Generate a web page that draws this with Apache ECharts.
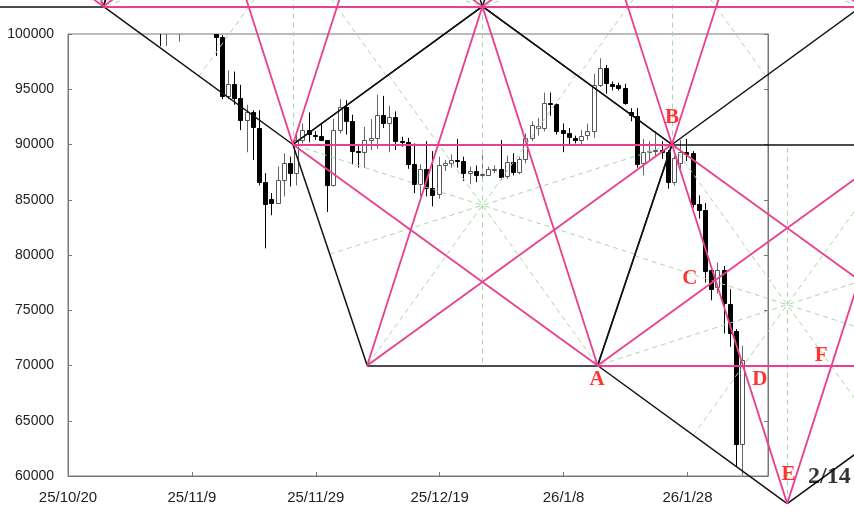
<!DOCTYPE html>
<html>
<head>
<meta charset="utf-8">
<script src="https://cdn.jsdelivr.net/npm/echarts@6/dist/echarts.min.js"></script>
<style>
  html, body { margin: 0; padding: 0; background: #fff; }
  #chart { width: 854px; height: 514px; }
</style>
</head>
<body>
<div id="chart"></div>
<script>
// x values are days since 2025-10-20
const ORIGIN = Date.UTC(2025, 9, 20);
const firstDay = 15;
const opens = [106500,101500,103900,101300,103300,102300,104700,105900,103000,101600,
  99700,94400,95500,94200,92200,92900,91500,86600,85100,84700,
  86800,88300,87400,90400,91300,90900,90800,90400,86300,91300,
  93400,92100,89400,89300,90400,90600,92700,92000,92500,90300,
  90200,88200,86400,87800,86100,85500,88100,88300,88600,88500,
  87400,87600,87200,87300,87800,87800,87100,88400,87500,88700,
  90600,91500,91500,93800,93700,91300,91000,90600,90400,90800,
  91200,95400,96900,95500,95400,95100,92900,92600,88300,89300,
  89400,89500,89300,86600,88300,89300,89200,84600,84100,78600,
  77100,78600,75600,73100,62900];
const closes = [101500,103900,101300,103300,102300,104700,105900,103000,101600,99700,
  94400,95500,94200,92200,92900,91500,86600,84600,84700,86800,
  88300,87400,90400,91300,90900,90800,90400,86300,91300,93400,
  92100,89400,89300,90400,90600,92700,92000,92500,90300,90200,
  88200,86400,87800,86100,85500,88100,88300,88600,88500,87400,
  87600,87200,87300,87800,87800,87100,88400,87500,88700,90600,
  91800,91700,93800,93700,91300,91000,90600,90400,90800,91200,
  95400,96900,95500,95300,95100,93700,92600,88300,89300,89400,
  89500,89300,86600,88800,89300,89100,84600,84100,78600,76900,
  78600,75600,73000,62900,70500];
const lows = [98900,98900,100300,99300,101400,101500,104300,102500,100800,98000,
  94100,94100,93600,91300,89300,88600,86300,80600,83600,84700,
  85300,86200,86300,90100,90200,90400,90300,83900,86200,91000,
  90900,88200,87900,87900,89500,89600,91500,89300,89500,89800,
  87800,85600,85300,85300,84400,85100,87600,87900,87900,86700,
  86400,86600,86800,87300,87400,86800,86900,87200,87300,88300,
  90300,90800,91200,92600,90900,89300,89900,90100,89900,90400,
  90600,95200,94600,94900,94900,93600,92100,87900,87200,88600,
  88900,88700,86000,86300,87800,88500,84300,83300,77500,75900,
  76500,72900,71700,60800,60100];
const highs = [107300,104500,104000,104100,103400,105000,106600,107000,105300,104000,
  99900,96700,96600,95400,93600,93100,93100,87400,85600,88000,
  89200,88900,91000,91900,92900,91200,91900,90400,92300,94100,
  94000,92700,89900,91600,92300,94500,94400,93500,93000,90700,
  90600,90100,88200,90300,89400,88900,88600,89100,90500,88900,
  88000,88100,89500,88000,88100,90400,89000,89200,88900,91000,
  92100,92400,94700,94700,93700,91900,91500,90800,91300,91900,
  96400,97800,97200,95700,95600,95500,93300,93300,90500,90300,
  91200,90300,89500,89000,90400,90500,89400,85400,84700,79000,
  79300,79000,76900,73300,71800];

const xTicks = [0, 20, 40, 60, 80, 100];
const yTicks = [60000, 65000, 70000, 75000, 80000, 85000, 90000, 95000, 100000];

// drawing template: [center day, apex, wide, narrow, star] prices; half widths in days
const W = 30.6;
const w = 18.6;
const shapes = [
  [-12.9, 135000, 122500, 102500, 117000],
  [36.3, 90000, 102500, 122500, 108000],
  [66.9, 102500, 90000, 70000, 84500],
  [97.5, 90000, 102500, 122500, 108000],
  [116.1, 57500, 70000, 90000, 75500]
];

// label anchors [day, price, text]
const marks = [
  [85.4, 68700, 'A'], [97.5, 92400, 'B'], [100.4, 77900, 'C'],
  [111.7, 68700, 'D'], [116.3, 60100, 'E'], [121.6, 70900, 'F']
];
const dateNote = [122.9, 59900, '2/14'];

function dayLabel(d) {
  const t = new Date(ORIGIN + d * 86400000);
  return (t.getUTCFullYear() % 100) + '/' + (t.getUTCMonth() + 1) + '/' + t.getUTCDate();
}

const candles = opens.map((o, i) => [firstDay + i, o, closes[i], lows[i], highs[i]]);

// clip the line through s (towards p) to a convex polygon
function chord(poly, s, p) {
  const d = [p[0] - s[0], (p[1] - s[1]) / 1000];
  let t0 = -1e9, t1 = 1e9;
  const cx = poly.reduce((a, q) => a + q[0], 0) / poly.length;
  const cy = poly.reduce((a, q) => a + q[1] / 1000, 0) / poly.length;
  for (let i = 0; i < poly.length; i++) {
    const a = [poly[i][0], poly[i][1] / 1000];
    const b = [poly[(i + 1) % poly.length][0], poly[(i + 1) % poly.length][1] / 1000];
    let n = [-(b[1] - a[1]), b[0] - a[0]];
    if (n[0] * (cx - a[0]) + n[1] * (cy - a[1]) < 0) n = [-n[0], -n[1]];
    const num = n[0] * (s[0] - a[0]) + n[1] * (s[1] / 1000 - a[1]);
    const den = n[0] * d[0] + n[1] * d[1];
    if (Math.abs(den) < 1e-12) continue;
    const t = -num / den;
    if (den > 0) t0 = Math.max(t0, t); else t1 = Math.min(t1, t);
  }
  return [[s[0] + d[0] * t0, s[1] + d[1] * t0 * 1000], [s[0] + d[0] * t1, s[1] + d[1] * t1 * 1000]];
}

const blackSegs = [], pinkSegs = [], greenSegs = [];
shapes.forEach(([c, ap, wi, na, st]) => {
  const apex = [c, ap], wl = [c - W, wi], wr = [c + W, wi], nl = [c - w, na], nr = [c + w, na];
  blackSegs.push([apex, wl], [apex, wr], [wl, nl], [wr, nr], [nl, nr]);
  pinkSegs.push([wl, wr], [nl, apex], [nr, apex], [wl, nr], [wr, nl]);
  const poly = [apex, wr, nr, nl, wl];
  const s = [c, st];
  greenSegs.push([apex, [c, na]]);
  [nl, nr, wl, wr].forEach(p => greenSegs.push(chord(poly, s, p)));
});

const chart = echarts.init(document.getElementById('chart'));

function renderCandle(params, api) {
  const x = api.value(0);
  const o = api.value(1), c = api.value(2);
  const pO = api.coord([x, o]), pC = api.coord([x, c]);
  const pL = api.coord([x, api.value(3)]), pH = api.coord([x, api.value(4)]);
  const cx = Math.round(pO[0]);
  const up = c >= o;
  const top = Math.round(Math.min(pO[1], pC[1])) + 0.5;
  const h = Math.max(1, Math.round(Math.abs(pO[1] - pC[1])));
  return {
    type: 'group',
    children: [{
      type: 'line',
      shape: { x1: cx - 0.5, y1: pH[1], x2: cx - 0.5, y2: pL[1] },
      style: { stroke: up ? '#666' : '#000', lineWidth: 1 }
    }, {
      type: 'rect',
      shape: { x: cx - 2.5, y: top, width: 4, height: h },
      style: { fill: up ? '#fff' : '#000', stroke: up ? '#555' : '#000', lineWidth: 1 }
    }]
  };
}

const lineSeries = (segs, style, z) => ({
  type: 'lines',
  coordinateSystem: 'cartesian2d',
  polyline: false,
  clip: false,
  silent: true,
  z: z,
  lineStyle: style,
  data: segs.map(s => ({ coords: s }))
});

chart.setOption({
  animation: false,
  backgroundColor: '#fff',
  grid: {
    left: 68, right: 86, top: 34, bottom: 38,
    show: true, borderColor: '#777', borderWidth: 1
  },
  xAxis: {
    type: 'value',
    min: 0, max: 113, interval: 20,
    axisLine: { lineStyle: { color: '#777' } },
    axisTick: { inside: true, length: 4, lineStyle: { color: '#777' } },
    splitLine: { show: false },
    axisLabel: {
      color: '#222', fontSize: 15, fontFamily: 'Liberation Sans', margin: 14,
      formatter: v => xTicks.includes(v) ? dayLabel(v) : ''
    }
  },
  yAxis: [{
    type: 'value',
    min: 60000, max: 100000, interval: 5000,
    axisLine: { show: true, lineStyle: { color: '#777' } },
    axisTick: { show: true, inside: true, length: 4, lineStyle: { color: '#777' } },
    splitLine: { show: false },
    axisLabel: {
      color: '#222', fontSize: 14, fontFamily: 'Liberation Sans', margin: 14,
      formatter: v => yTicks.includes(v) ? String(v) : ''
    }
  }, {
    type: 'value', position: 'right',
    min: 60000, max: 100000, interval: 5000,
    axisLine: { show: true, lineStyle: { color: '#777' } },
    axisTick: { show: true, inside: true, length: 4, lineStyle: { color: '#777' } },
    splitLine: { show: false },
    axisLabel: { show: false }
  }],
  series: [
    {
      type: 'custom',
      renderItem: renderCandle,
      data: candles,
      encode: { x: 0, y: [1, 2, 3, 4] },
      clip: true,
      silent: true,
      z: 2
    },
    lineSeries(greenSegs, { color: '#a8d8a8', width: 1, type: [5, 4], opacity: 1 }, 3),
    lineSeries(blackSegs, { color: '#111', width: 1.5, opacity: 1 }, 4),
    lineSeries(pinkSegs, { color: '#ea3e8e', width: 1.8, opacity: 1 }, 5),
    {
      type: 'scatter',
      clip: false,
      silent: true,
      symbolSize: 0,
      z: 6,
      data: marks.map(m => ({ value: [m[0], m[1]], name: m[2] })),
      label: {
        show: true, position: 'inside', formatter: '{b}',
        color: '#ff0000', fontSize: 21, fontWeight: 'bold', fontFamily: 'Liberation Serif'
      }
    },
    {
      type: 'scatter',
      clip: false,
      silent: true,
      symbolSize: 0,
      z: 6,
      data: [{ value: [dateNote[0], dateNote[1]], name: dateNote[2] }],
      label: {
        show: true, position: 'inside', formatter: '{b}',
        color: '#000', fontSize: 24, fontWeight: 'bold', fontFamily: 'Liberation Serif'
      }
    }
  ]
});
</script>
</body>
</html>
